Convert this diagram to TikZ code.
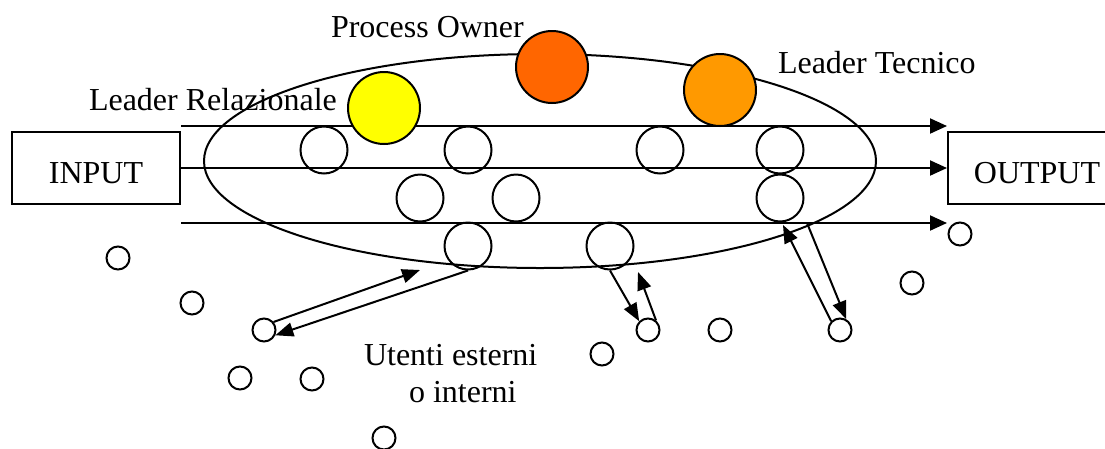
\documentclass[tikz,border=0pt]{standalone}
\usepackage{fontspec}
\setmainfont{Liberation Serif}
\usetikzlibrary{arrows.meta}

\begin{document}
\begin{tikzpicture}[x=1pt, y=-1pt, line width=2pt,
font=\fontsize{32}{38}\selectfont,
box/.style={
  draw, rectangle, inner sep=0pt,
  minimum height=72pt, text height=30pt, text depth=0pt
},
ruolo/.style={draw, circle, inner sep=0pt, minimum size=72pt},
fase/.style={draw, circle, inner sep=0pt, minimum size=47pt},
utente/.style={draw, circle, inner sep=0pt, minimum size=23pt},
etichetta/.style={anchor=base west, inner sep=0pt},
flusso/.style={-{Triangle[length=17pt,width=15pt]}},
freccia/.style={-{Triangle[length=18pt,width=14pt]}}
]
\useasboundingbox (0,0) rectangle (1105,448);

% processo
\draw (540,161) ellipse (336 and 107);

\node (input) [box, minimum width=168pt] at (96,168) {INPUT};
\node (output) [box, minimum width=178pt] at (1037,168) {OUTPUT};

% flussi di attivita
\coordinate (a1) at (input.east |- 0,126);
\coordinate (a2) at (input.east);
\coordinate (a3) at (input.east |- 0,223);
\draw[flusso] (a1) -- (a1 -| output.west);
\draw[flusso] (a2) -- (output.west);
\draw[flusso] (a3) -- (a3 -| output.west);

% fasi lungo i flussi
\foreach \n/\x/\y in {f11/324/150, f12/468/150, f13/660/150, f14/780/150,
  f21/420/198, f22/516/198, f23/780/198,
  f31/468/246, f32/610/246}
  \node (\n) [fase] at (\x,\y) {};

% ruoli
\node (rel) [ruolo, fill={rgb,255:red,255;green,255;blue,0}] at (384,108) {};
\node (own) [ruolo, fill={rgb,255:red,255;green,102;blue,0}] at (552,67) {};
\node (tec) [ruolo, fill={rgb,255:red,255;green,153;blue,0}] at (720,90) {};

\node [etichetta] at (88,110) {Leader Relazionale};
\node [etichetta] at (330,37) {Process Owner};
\node [etichetta] at (777,73) {Leader Tecnico};

% utenti
\foreach \n/\x/\y in {u1/118/258, u2/192/303, u3/264/330, u4/240/378,
  u5/312/379, u6/384/438, u7/602/354, u8/648/330, u9/720/330,
  u10/840/330, u11/912/283, u12/960/234}
  \node (\n) [utente] at (\x,\y) {};

\node [etichetta] at (363,365) {Utenti esterni};
\node [etichetta] at (408,402) {o interni};

% scambi con gli utenti
\coordinate (e1) at (420,270);
\coordinate (e2) at (638,272);
\coordinate (e3) at (783,225);
\coordinate (e4) at (807,223);
\draw[freccia] (f31.south) -- (u3.-25);
\draw[freccia] (u3.40) -- (e1);
\draw[freccia] (f32.south) -- (u8.135);
\draw[freccia] (u8.50) -- (e2);
\draw[freccia] (u10.135) -- (e3);
\draw[freccia] (e4) -- (u10.60);
\end{tikzpicture}
\end{document}
